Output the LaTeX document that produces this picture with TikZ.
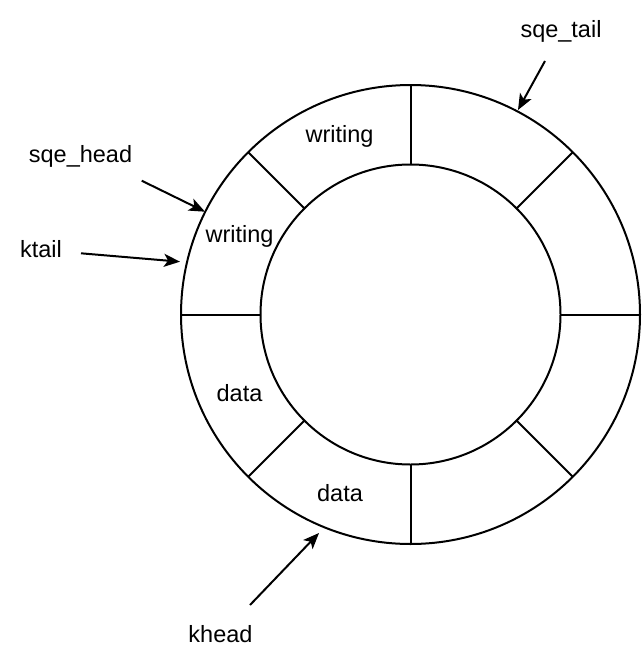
\documentclass[tikz,border=0pt]{standalone}
\usepackage{fontspec}
\setmainfont{Liberation Sans}
\usetikzlibrary{arrows.meta}
\begin{document}
\begin{tikzpicture}[x=1pt,y=-1pt,
  ring/.style={circle,draw,line width=2pt,inner sep=0pt,outer sep=0pt},
  divider/.style={line width=2pt},
  lbl/.style={inner sep=0pt,anchor=base,font=\fontsize{23.5}{28}\selectfont},
  ptr/.style={line width=2pt,-{Stealth[length=16pt,width=13pt,inset=4pt]}}]
\useasboundingbox (0,0) rectangle (642,664);
\node[ring,minimum size=459pt] (outer) at (410.5,314.5) {};
\node[ring,minimum size=300pt] (inner) at (410.5,314.5) {};
\foreach \a in {0,45,...,315} \draw[divider] (inner.\a) -- (outer.\a);
\node[lbl] (w1) at (339.5,142.5) {writing};
\node[lbl] (w2) at (239.5,242.5) {writing};
\node[lbl] (d1) at (239.5,401.5) {data};
\node[lbl] (d2) at (340,501) {data};
\node[lbl] (sqetail) at (561,37.5) {sqe\_tail};
\node[lbl] (sqehead) at (80.5,162) {sqe\_head};
\node[lbl] (ktail) at (41,257.5) {ktail};
\node[lbl] (khead) at (220.5,642.3) {khead};
\coordinate (tailS) at (545,61);
\coordinate (tailE) at (518,110);
\coordinate (sheadS) at (141.7,180.7);
\coordinate (sheadE) at (205,211.7);
\coordinate (ktailS) at (81,253.3);
\coordinate (ktailE) at (180,261.7);
\coordinate (kheadS) at (250,605);
\coordinate (kheadE) at (319,533);
\draw[ptr] (tailS) -- (tailE);
\draw[ptr] (sheadS) -- (sheadE);
\draw[ptr] (ktailS) -- (ktailE);
\draw[ptr] (kheadS) -- (kheadE);
\end{tikzpicture}
\end{document}
